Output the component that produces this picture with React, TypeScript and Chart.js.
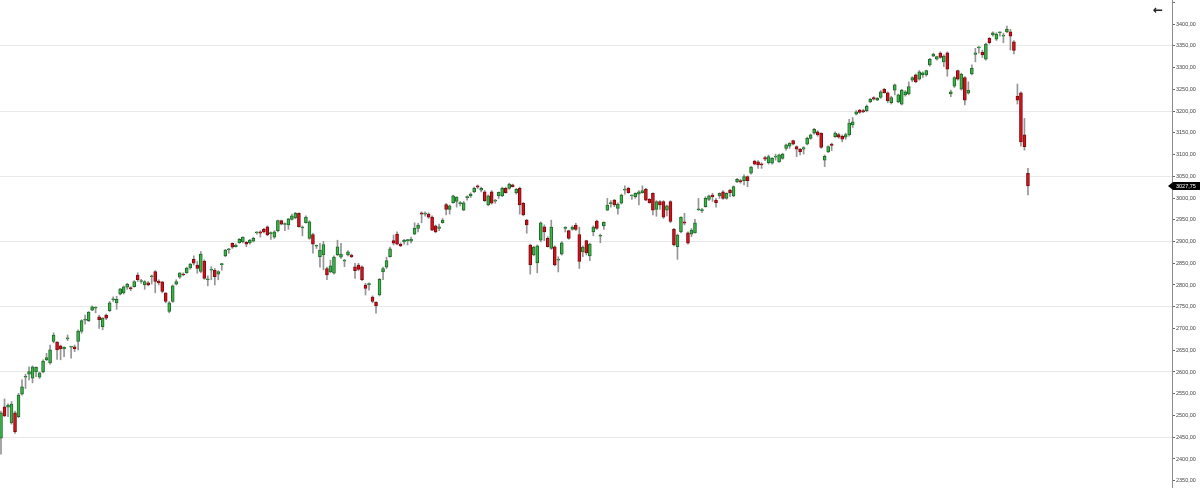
import { useEffect, useRef } from "react";
import { Chart, registerables } from "chart.js";

Chart.register(...registerables);

// Daily candles, oldest first
const OPEN = [
  2448, 2520, 2519, 2483, 2506, 2497, 2549, 2588, 2595, 2586,
  2600, 2588, 2600, 2628, 2621, 2670, 2669, 2660, 2653, 2676,
  2657, 2658, 2670, 2693, 2719, 2718, 2742, 2747, 2727, 2704,
  2731, 2741, 2766, 2759, 2779, 2782, 2795, 2794, 2796, 2823,
  2808, 2800, 2805, 2819, 2831, 2809, 2807, 2782, 2739, 2762,
  2802, 2818, 2825, 2828, 2839, 2859, 2846, 2831, 2855, 2812,
  2834, 2834, 2825, 2847, 2867, 2881, 2896, 2888, 2897, 2899,
  2898, 2897, 2901, 2920, 2922, 2928, 2934, 2918, 2910, 2925,
  2948, 2939, 2938, 2951, 2954, 2965, 2931, 2943, 2907, 2916,
  2889, 2865, 2869, 2838, 2830, 2827, 2869, 2864, 2855, 2869,
  2869, 2842, 2846, 2842, 2800, 2801, 2772, 2760, 2777, 2830,
  2841, 2865, 2902, 2917, 2894, 2899, 2902, 2901, 2917, 2930,
  2966, 2963, 2963, 2956, 2936, 2930, 2943, 2985, 2974, 2989,
  2992, 2987, 2972, 3001, 3005, 3014, 3028, 3018, 3014, 2984,
  3014, 2993, 3005, 3005, 3022, 3022, 3030, 3012, 3022, 2988,
  2949, 2892, 2869, 2851, 2903, 2934, 2907, 2884, 2888, 2857,
  2871, 2930, 2925, 2928, 2938, 2916, 2876, 2902, 2867, 2922,
  2947, 2912, 2936, 2972, 2987, 2995, 2976, 2988, 3018, 3022,
  3005, 3003, 3009, 3012, 3020, 2997, 3011, 2974, 2992, 2992,
  2972, 2992, 2928, 2888, 2922, 2945, 2920, 2917, 2920, 2973,
  2971, 2980, 2997, 3007, 2995, 3005, 3014, 2999, 3018, 3005,
  3037, 3040, 3040, 3049, 3057, 3085, 3083, 3078, 3093, 3081,
  3080, 3094, 3083, 3091, 3114, 3119, 3132, 3118, 3112, 3112,
  3124, 3137, 3149, 3152, 3149, 3087, 3106, 3124, 3141, 3146,
  3142, 3140, 3145, 3168, 3193, 3202, 3201, 3201, 3221, 3231,
  3225, 3231, 3250, 3242, 3219, 3248, 3221, 3216, 3237, 3239,
  3271, 3283, 3273, 3283, 3283, 3306, 3326, 3319, 3333, 3313,
  3334, 3239, 3257, 3293, 3250, 3277, 3241, 3285, 3330, 3345,
  3335, 3319, 3367, 3375, 3365, 3380, 3372, 3382, 3382, 3359,
  3234, 3242, 3145, 3057,
];

const HIGH = [
  2510, 2538, 2527, 2532, 2510, 2551, 2582, 2595, 2612, 2614,
  2612, 2600, 2628, 2643, 2662, 2690, 2670, 2662, 2658, 2685,
  2659, 2662, 2697, 2720, 2731, 2739, 2752, 2750, 2731, 2725,
  2733, 2762, 2773, 2774, 2792, 2798, 2804, 2796, 2810, 2828,
  2813, 2810, 2808, 2823, 2833, 2812, 2808, 2782, 2762, 2800,
  2812, 2828, 2828, 2841, 2850, 2867, 2854, 2877, 2858, 2821,
  2842, 2838, 2833, 2850, 2882, 2884, 2897, 2894, 2907, 2911,
  2900, 2905, 2910, 2922, 2925, 2930, 2936, 2922, 2925, 2949,
  2949, 2943, 2953, 2963, 2967, 2966, 2936, 2959, 2948, 2919,
  2892, 2896, 2900, 2841, 2857, 2867, 2903, 2896, 2859, 2879,
  2871, 2850, 2850, 2844, 2804, 2805, 2775, 2762, 2815, 2841,
  2864, 2887, 2915, 2922, 2897, 2905, 2905, 2910, 2943, 2942,
  2968, 2968, 2966, 2959, 2938, 2940, 2953, 2988, 2984, 3007,
  3003, 2992, 2992, 3005, 3012, 3025, 3030, 3025, 3017, 3007,
  3017, 2997, 3014, 3025, 3025, 3034, 3032, 3022, 3025, 2990,
  2951, 2894, 2889, 2892, 2945, 2938, 2911, 2949, 2890, 2865,
  2900, 2934, 2926, 2936, 2942, 2933, 2890, 2903, 2896, 2936,
  2949, 2917, 2945, 2999, 2994, 2997, 2989, 3009, 3028, 3025,
  3007, 3012, 3017, 3028, 3022, 2999, 3012, 2994, 2994, 2994,
  2984, 2994, 2930, 2917, 2957, 2965, 2922, 2930, 2951, 2999,
  2976, 3003, 3007, 3011, 2999, 3012, 3017, 3012, 3020, 3028,
  3045, 3043, 3053, 3051, 3073, 3087, 3086, 3081, 3096, 3099,
  3093, 3101, 3101, 3103, 3124, 3127, 3133, 3120, 3114, 3118,
  3140, 3147, 3160, 3155, 3150, 3099, 3120, 3126, 3152, 3149,
  3145, 3149, 3181, 3185, 3201, 3204, 3204, 3214, 3229, 3233,
  3231, 3247, 3252, 3244, 3234, 3262, 3239, 3250, 3247, 3267,
  3279, 3285, 3293, 3290, 3294, 3321, 3333, 3326, 3336, 3329,
  3336, 3248, 3279, 3294, 3287, 3279, 3267, 3306, 3344, 3348,
  3340, 3356, 3369, 3382, 3380, 3382, 3379, 3395, 3388, 3362,
  3262, 3244, 3183, 3068,
];

const LOW = [
  2411, 2497, 2497, 2480, 2459, 2495, 2547, 2562, 2582, 2575,
  2589, 2585, 2598, 2626, 2618, 2667, 2629, 2628, 2635, 2672,
  2632, 2647, 2651, 2689, 2710, 2716, 2741, 2736, 2700, 2697,
  2720, 2739, 2762, 2744, 2777, 2779, 2790, 2787, 2795, 2808,
  2804, 2790, 2798, 2802, 2782, 2800, 2782, 2759, 2736, 2760,
  2800, 2815, 2821, 2827, 2836, 2846, 2827, 2828, 2813, 2798,
  2812, 2800, 2812, 2834, 2865, 2873, 2884, 2887, 2896, 2897,
  2888, 2894, 2899, 2917, 2910, 2920, 2913, 2905, 2907, 2922,
  2938, 2925, 2928, 2949, 2952, 2933, 2913, 2942, 2905, 2873,
  2884, 2841, 2835, 2812, 2828, 2825, 2867, 2861, 2842, 2867,
  2863, 2815, 2833, 2810, 2777, 2788, 2759, 2735, 2775, 2812,
  2838, 2864, 2892, 2892, 2888, 2894, 2892, 2897, 2916, 2922,
  2943, 2958, 2953, 2925, 2920, 2925, 2942, 2961, 2963, 2988,
  2979, 2982, 2971, 2995, 3001, 3012, 3022, 3014, 2992, 2982,
  2986, 2988, 2999, 3003, 3011, 3020, 3025, 3009, 2963, 2959,
  2919, 2825, 2867, 2828, 2899, 2902, 2887, 2882, 2844, 2830,
  2869, 2922, 2905, 2926, 2925, 2838, 2865, 2869, 2856, 2913,
  2928, 2897, 2928, 2971, 2979, 2980, 2963, 2986, 3009, 3011,
  2997, 2999, 2984, 3011, 2994, 2988, 2961, 2958, 2974, 2953,
  2959, 2943, 2890, 2859, 2920, 2938, 2894, 2911, 2919, 2971,
  2966, 2979, 2994, 2992, 2979, 2999, 2997, 2997, 3003, 3003,
  3035, 3034, 3030, 3026, 3055, 3076, 3068, 3068, 3086, 3078,
  3078, 3087, 3082, 3089, 3110, 3114, 3122, 3095, 3099, 3101,
  3122, 3135, 3147, 3142, 3114, 3072, 3104, 3109, 3139, 3137,
  3129, 3135, 3142, 3162, 3191, 3195, 3196, 3198, 3219, 3225,
  3224, 3229, 3241, 3219, 3216, 3237, 3219, 3214, 3234, 3237,
  3267, 3265, 3271, 3277, 3280, 3303, 3325, 3317, 3321, 3302,
  3280, 3233, 3254, 3271, 3248, 3214, 3239, 3283, 3313, 3333,
  3323, 3317, 3354, 3372, 3362, 3372, 3357, 3380, 3340, 3331,
  3216, 3119, 3110, 3007,
];

const CLOSE = [
  2506, 2499, 2524, 2526, 2462, 2547, 2566, 2590, 2601, 2612,
  2611, 2598, 2625, 2633, 2651, 2685, 2651, 2653, 2657, 2678,
  2658, 2653, 2694, 2718, 2720, 2738, 2750, 2747, 2720, 2724,
  2724, 2759, 2766, 2767, 2791, 2796, 2802, 2791, 2808, 2812,
  2808, 2808, 2800, 2819, 2808, 2805, 2785, 2762, 2759, 2798,
  2808, 2828, 2823, 2839, 2848, 2850, 2838, 2871, 2815, 2813,
  2834, 2819, 2831, 2848, 2880, 2882, 2887, 2892, 2905, 2910,
  2894, 2903, 2907, 2920, 2919, 2922, 2915, 2918, 2922, 2948,
  2940, 2939, 2952, 2959, 2965, 2934, 2931, 2956, 2945, 2894,
  2889, 2880, 2893, 2823, 2844, 2864, 2888, 2871, 2855, 2876,
  2865, 2833, 2836, 2812, 2792, 2801, 2762, 2752, 2813, 2838,
  2856, 2883, 2896, 2894, 2890, 2903, 2902, 2905, 2930, 2938,
  2963, 2963, 2956, 2926, 2922, 2934, 2949, 2974, 2982, 3005,
  3002, 2988, 2989, 3001, 3009, 3022, 3025, 3022, 2994, 3005,
  2988, 2993, 3013, 3022, 3012, 3032, 3026, 3020, 2984, 2961,
  2938, 2846, 2887, 2890, 2943, 2922, 2888, 2933, 2846, 2857,
  2897, 2930, 2907, 2933, 2928, 2854, 2887, 2874, 2894, 2933,
  2930, 2912, 2944, 2984, 2987, 2984, 2986, 3007, 3019, 3012,
  3005, 3011, 3014, 3017, 2995, 2989, 2972, 2992, 2984, 2956,
  2982, 2946, 2892, 2915, 2956, 2942, 2896, 2926, 2943, 2974,
  2971, 2999, 3005, 3003, 2989, 3011, 2999, 3011, 3012, 3026,
  3043, 3037, 3049, 3040, 3071, 3078, 3076, 3076, 3089, 3095,
  3091, 3094, 3099, 3101, 3122, 3126, 3124, 3112, 3106, 3116,
  3137, 3145, 3158, 3145, 3116, 3096, 3118, 3121, 3149, 3140,
  3135, 3146, 3172, 3175, 3198, 3197, 3198, 3211, 3227, 3227,
  3229, 3244, 3242, 3224, 3231, 3260, 3237, 3248, 3244, 3256,
  3277, 3267, 3290, 3288, 3293, 3319, 3331, 3325, 3323, 3326,
  3296, 3244, 3277, 3273, 3285, 3225, 3248, 3298, 3334, 3346,
  3329, 3354, 3357, 3380, 3377, 3380, 3372, 3388, 3372, 3339,
  3225, 3129, 3118, 3027.75,
];

// Price axis
const Y_TICKS = [
  2350, 2400, 2450, 2500, 2550, 2600, 2650, 2700, 2750, 2800, 2850, 2900,
  2950, 3000, 3050, 3100, 3150, 3200, 3250, 3300, 3350, 3400, 3450,
];
const GRID_TICKS = [2450, 2600, 2750, 2900, 3050, 3200, 3350];
const HIDDEN_LABELS = [3450];
const Y_MIN = 2333.3;
const Y_MAX = 3455.2;
const X_MIN = -0.285;
const X_MAX = 334.1;

const GREEN_FILL = "#3cb44a";
const GREEN_EDGE = "#1f6a28";
const RED_FILL = "#d3131c";
const RED_EDGE = "#7e0a0f";
const WICK = "#959595";

const fmt = (v: number) => v.toFixed(2).replace(".", ",");

export default function App() {
  const ref = useRef<HTMLCanvasElement>(null);

  useEffect(() => {
    document.body.style.margin = "0";
    const idx = OPEN.map((_, i) => i);
    const up = idx.map((i) => CLOSE[i] >= OPEN[i]);
    const bodies = idx.map((i) => ({ x: i, y: [OPEN[i], CLOSE[i]] }));
    const wicks = idx.map((i) => ({ x: i, y: [LOW[i], HIGH[i]] }));
    const last = CLOSE[CLOSE.length - 1];

    const lastPricePlugin = {
      id: "lastPrice",
      afterDraw(chart: any) {
        const { ctx, chartArea, scales } = chart;
        const y = scales.y.getPixelForValue(last);
        const x0 = chartArea.right;
        ctx.save();
        ctx.fillStyle = "#000";
        ctx.beginPath();
        ctx.moveTo(x0 - 4, y);
        ctx.lineTo(x0 + 1, y - 4);
        ctx.lineTo(chart.width, y - 4);
        ctx.lineTo(chart.width, y + 4);
        ctx.lineTo(x0 + 1, y + 4);
        ctx.closePath();
        ctx.fill();
        ctx.fillStyle = "#fff";
        ctx.font = '5.5px "Liberation Sans"';
        ctx.textBaseline = "middle";
        ctx.textAlign = "left";
        ctx.fillText(fmt(last), x0 + 4, y + 0.5);
        ctx.restore();
      },
    };

    const chart = new Chart(ref.current as HTMLCanvasElement, {
      type: "bar",
      data: {
        datasets: [
          {
            data: bodies as any,
            backgroundColor: up.map((u) => (u ? GREEN_FILL : RED_FILL)),
            borderColor: up.map((u) => (u ? GREEN_EDGE : RED_EDGE)),
            borderWidth: 1,
            borderSkipped: false,
            barThickness: 3,
            minBarLength: 1,
            grouped: false,
            order: 0,
          } as any,
          {
            data: wicks as any,
            backgroundColor: WICK,
            borderWidth: 0,
            barThickness: 1,
            grouped: false,
            order: 1,
          } as any,
        ],
      },
      options: {
        animation: false,
        responsive: true,
        maintainAspectRatio: false,
        devicePixelRatio: 1,
        layout: { padding: 0 },
        plugins: { legend: { display: false }, tooltip: { enabled: false } },
        scales: {
          x: {
            type: "linear",
            display: false,
            offset: false,
            min: X_MIN,
            max: X_MAX,
          },
          y: {
            position: "right",
            min: Y_MIN,
            max: Y_MAX,
            afterBuildTicks: (axis: any) => {
              axis.ticks = Y_TICKS.map((v) => ({ value: v }));
            },
            afterFit: (axis: any) => {
              axis.width = 28;
              axis.paddingTop = 0;
              axis.paddingBottom = 0;
            },
            grid: {
              color: (c: any) =>
                c.tick && GRID_TICKS.includes(c.tick.value) ? "#e8e8e8" : "rgba(0,0,0,0)",
              tickColor: "#666",
              tickLength: 3,
              drawTicks: true,
              lineWidth: 1,
            },
            border: { display: true, color: "#8c8c8c", width: 1 },
            ticks: {
              padding: 1,
              color: "#444",
              autoSkip: false,
              font: { size: 5.5, family: "Liberation Sans" },
              callback: (v: any) => (HIDDEN_LABELS.includes(Number(v)) ? "" : fmt(Number(v))),
            },
          },
        },
      } as any,
      plugins: [lastPricePlugin],
    });
    return () => chart.destroy();
  }, []);

  return (
    <div style={{ position: "fixed", left: 0, top: 0, width: 1200, height: 488, background: "#fff" }}>
      <canvas ref={ref} />
      <div
        style={{
          position: "absolute",
          left: 1153,
          top: 3,
          fontFamily: "DejaVu Sans",
          fontSize: 12,
          fontWeight: "bold",
          lineHeight: "14px",
          color: "#222",
        }}
      >
        ←
      </div>
    </div>
  );
}
